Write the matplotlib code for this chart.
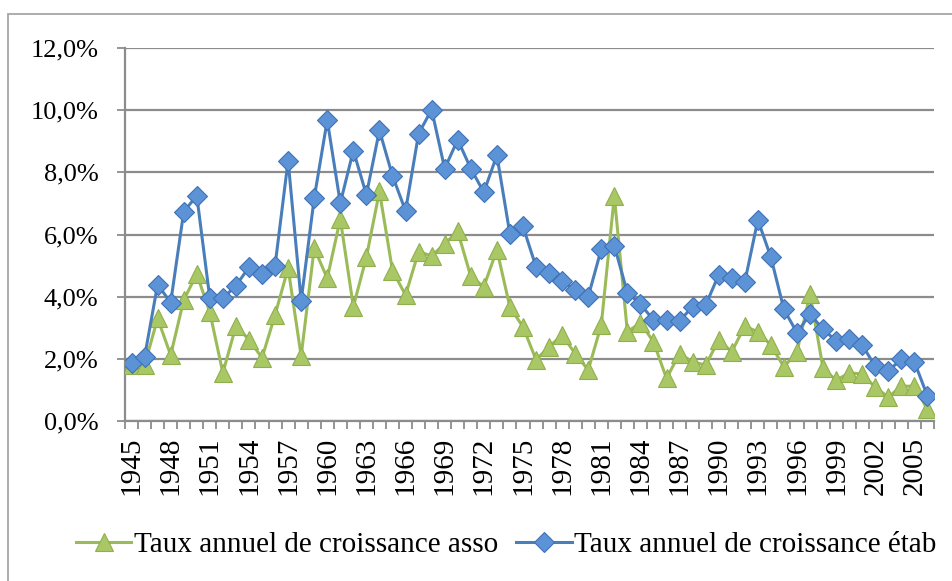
import numpy as np
import matplotlib
matplotlib.use("Agg")
import matplotlib.pyplot as plt
from matplotlib.patches import Rectangle
from matplotlib.ticker import FuncFormatter, FixedLocator

years = list(range(1945, 2007))

asso = [1.8, 1.8, 3.30, 2.12, 3.89, 4.73, 3.50, 1.55, 3.05, 2.62,
        2.03, 3.41, 4.92, 2.09, 5.56, 4.59, 6.50, 3.68, 5.27, 7.39,
        4.84, 4.05, 5.45, 5.31, 5.70, 6.10, 4.65, 4.32, 5.51, 3.66,
        3.03, 1.97, 2.39, 2.76, 2.17, 1.64, 3.09, 7.23, 2.87, 3.16,
        2.55, 1.37, 2.17, 1.90, 1.80, 2.60, 2.23, 3.05, 2.87, 2.44,
        1.74, 2.23, 4.09, 1.69, 1.31, 1.55, 1.51, 1.08, 0.77, 1.12,
        1.12, 0.37]

etab = [1.87, 2.06, 4.39, 3.81, 6.73, 7.25, 3.95, 3.95, 4.35, 4.95,
        4.73, 5.00, 8.38, 3.87, 7.17, 9.68, 7.01, 8.70, 7.28, 9.35,
        7.89, 6.76, 9.24, 10.02, 8.12, 9.05, 8.12, 7.36, 8.55, 6.01,
        6.26, 4.96, 4.77, 4.51, 4.22, 4.00, 5.53, 5.64, 4.13, 3.76,
        3.25, 3.25, 3.22, 3.68, 3.73, 4.70, 4.61, 4.47, 6.47, 5.27,
        3.59, 2.84, 3.44, 2.95, 2.58, 2.64, 2.44, 1.76, 1.61, 1.99,
        1.90, 0.80]

y_ticks = [0, 2, 4, 6, 8, 10, 12]
x_label_years = list(range(1945, 2006, 3))

labels = ["Taux annuel de croissance asso", "Taux annuel de croissance étab"]

plt.rcParams['font.family'] = ['Liberation Serif', 'DejaVu Serif']

W, H = 952, 581
fig = plt.figure(figsize=(W / 100, H / 100), dpi=100)
fig.patch.set_facecolor('white')

# outer chart border (extends beyond right/bottom of image)
fig.patches.append(Rectangle((8 / W, -0.1), 1.2, 1 - 13.5 / H + 0.1,
                             transform=fig.transFigure, fill=False,
                             edgecolor='#a6a6a6', linewidth=1.3))

left, right = 125 / W, 934 / W
top, bottom = 1 - 48 / H, 1 - 421 / H
ax = fig.add_axes([left, bottom, right - left, top - bottom])

grid_color = '#8c8c8c'
green_line = '#9bbb59'
green_face = '#a9c865'
green_edge = '#8fb04c'
blue_line = '#4a7ebb'
blue_face = '#5b93d6'
blue_edge = '#3f72b5'

ax.plot(years, asso, color=green_line, linewidth=2.2, marker='^',
        markersize=12.5, markerfacecolor=green_face, markeredgecolor=green_edge,
        markeredgewidth=0.8, label=labels[0], zorder=3)
ax.plot(years, etab, color=blue_line, linewidth=2.2, marker='D',
        markersize=10.3, markerfacecolor=blue_face, markeredgecolor=blue_edge,
        markeredgewidth=0.8, label=labels[1], zorder=4)

ax.set_xlim(years[0] - 0.5, years[-1] + 0.5)
ax.set_ylim(0, 12)

ax.yaxis.set_major_locator(FixedLocator(y_ticks))
ax.yaxis.set_major_formatter(FuncFormatter(lambda v, p: f"{v:.1f}%".replace('.', ',')))
ax.grid(axis='y', color=grid_color, linewidth=1.6, zorder=0)
ax.set_axisbelow(True)

# category boundary ticks (major) and labeled ticks (minor)
ax.set_xticks(np.arange(years[0] - 0.5, years[-1] + 1, 1))
ax.set_xticklabels([])
ax.set_xticks(x_label_years, minor=True)
ax.set_xticklabels([str(y) for y in x_label_years], minor=True, rotation=90)
ax.tick_params(axis='x', which='major', length=6, width=1.3, color=grid_color, direction='out')
ax.tick_params(axis='x', which='minor', length=0, pad=11.5, labelsize=21)
ax.tick_params(axis='y', length=6, width=1.3, color=grid_color, direction='out',
               pad=13, labelsize=19)

for s in ['top', 'right']:
    ax.spines[s].set_visible(False)
for s in ['left', 'bottom']:
    ax.spines[s].set_color(grid_color)
    ax.spines[s].set_linewidth(1.6)

leg = fig.legend(loc='center', bbox_to_anchor=(0.532, 1 - 545 / H), ncol=2,
                 frameon=False, fontsize=21, handlelength=1.9,
                 handletextpad=0.1, columnspacing=0.6)

fig.savefig("out.png", dpi=100, facecolor='white')
